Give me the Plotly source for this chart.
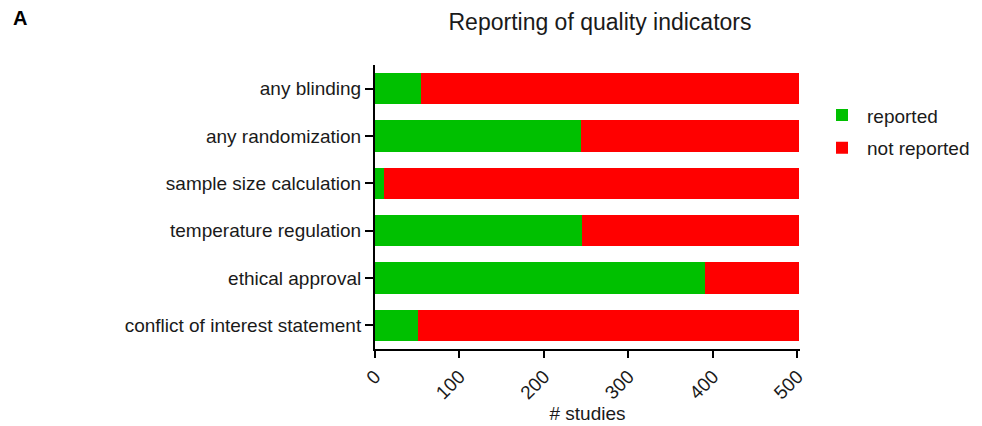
import plotly.graph_objects as go

categories = ["any blinding", "any randomization", "sample size calculation",
              "temperature regulation", "ethical approval", "conflict of interest statement"]
reported = [55, 244, 11, 245, 390, 51]
total = [502, 502, 502, 502, 502, 502]
not_reported = [t - r for t, r in zip(total, reported)]
x_ticks = [0, 100, 200, 300, 400, 500]

FONT = "Liberation Sans, Arial, sans-serif"

fig = go.Figure()
fig.add_trace(go.Bar(y=categories, x=reported, orientation="h", name="reported",
                     legendgroup="a",
                     marker=dict(color="#00C000", line=dict(width=0))))
fig.add_trace(go.Bar(y=categories, x=not_reported, orientation="h", name="not reported",
                     legendgroup="b",
                     marker=dict(color="#FF0000", line=dict(width=0))))

# page body adds an 8px offset; figure sized so it fits the window exactly
fig.update_layout(
    barmode="stack",
    bargap=0.34,
    width=974, height=418,
    margin=dict(l=367, r=182, t=57, b=77),
    plot_bgcolor="white", paper_bgcolor="white",
    font=dict(family=FONT, size=19, color="#1a1a1a"),
    title=dict(text="Reporting of quality indicators", x=592 / 974, xanchor="center",
               xref="container", y=0.9665, yref="container", yanchor="middle",
               font=dict(size=23, color="#1a1a1a")),
    legend=dict(x=0.8306, xref="container", y=0.89, xanchor="left", yanchor="top",
                font=dict(size=19), bgcolor="rgba(0,0,0,0)", itemwidth=40,
                traceorder="grouped", tracegroupgap=5),
    xaxis=dict(range=[0, 503], tickvals=x_ticks, tickangle=-45, automargin=False,
               showgrid=False, zeroline=False, showline=True, linecolor="black",
               linewidth=2, ticks="outside", ticklen=7, tickwidth=2, tickcolor="black",
               title=dict(text="# studies", font=dict(size=19), standoff=2)),
    yaxis=dict(autorange="reversed", automargin=False, showgrid=False, zeroline=False,
               showline=True, linecolor="black", linewidth=2, ticks="outside",
               ticklen=8, tickwidth=2, tickcolor="black"),
    annotations=[dict(text="<b>A</b>", xref="paper", yref="paper",
                      x=(20 - 375) / 425, y=(349 - 18) / 284,
                      xanchor="center", yanchor="middle",
                      showarrow=False, font=dict(size=20, color="black"))],
)

fig.write_html("out.html")
